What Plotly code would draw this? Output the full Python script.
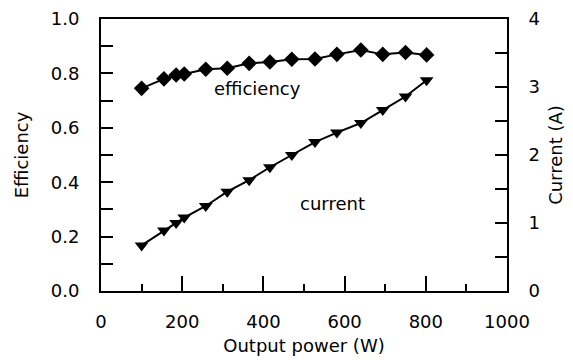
import plotly.graph_objects as go

power_w = [100, 155, 185, 205, 258, 311, 365, 416, 470, 527, 581, 640, 694, 750, 802]
efficiency = [0.745, 0.78, 0.794, 0.798, 0.815, 0.819, 0.837, 0.842, 0.852, 0.853, 0.870, 0.886, 0.870, 0.877, 0.868]
current_a = [0.67, 0.89, 1.00, 1.08, 1.25, 1.46, 1.63, 1.82, 2.00, 2.19, 2.33, 2.47, 2.66, 2.86, 3.10]

FONT = "DejaVu Sans"
fig = go.Figure()
fig.add_trace(go.Scatter(x=power_w, y=efficiency, mode="lines+markers",
                         line=dict(color="black", width=2),
                         marker=dict(symbol="diamond", size=12, color="black"),
                         showlegend=False))
fig.add_trace(go.Scatter(x=power_w, y=current_a, mode="lines+markers", yaxis="y2",
                         line=dict(color="black", width=2),
                         marker=dict(symbol="triangle-down", size=12, color="black"),
                         showlegend=False))

fig.add_annotation(x=386, y=0.746, text="efficiency", showarrow=False,
                   font=dict(family=FONT, size=18, color="black"))
fig.add_annotation(x=571, y=0.323, text="current", showarrow=False,
                   font=dict(family=FONT, size=18, color="black"))

axis_common = dict(showline=True, linecolor="black", linewidth=2, showgrid=False,
                   zeroline=False, ticks="inside", tickcolor="black", tickwidth=2,
                   automargin=False,
                   tickfont=dict(family=FONT, size=18, color="black"),
                   title_font=dict(family=FONT, size=18, color="black"))

fig.update_layout(
    width=573, height=360,
    margin=dict(l=101, r=66, t=19, b=69),
    paper_bgcolor="white", plot_bgcolor="white",
    xaxis=dict(range=[0, 1000], dtick=200, ticklen=15, mirror=True, ticklabelstandoff=13,
               title=dict(text="Output power (W)", standoff=9),
               minor=dict(dtick=100, ticklen=7, ticks="inside", tickcolor="black", tickwidth=2),
               **axis_common),
    yaxis=dict(range=[0, 1.0], dtick=0.2, ticklen=12, mirror=True, tickformat=".1f",
               ticklabelstandoff=16,
               title=dict(text="Efficiency", standoff=17),
               minor=dict(dtick=0.1, ticklen=12, ticks="inside", tickcolor="black", tickwidth=2),
               **axis_common),
    yaxis2=dict(range=[0, 4], dtick=1, ticklen=12, overlaying="y", side="right",
                ticklabelstandoff=16,
                title=dict(text="Current (A)", standoff=10),
                minor=dict(dtick=0.5, ticklen=12, ticks="inside", tickcolor="black", tickwidth=2),
                **axis_common),
)

fig.write_html("out.html")
